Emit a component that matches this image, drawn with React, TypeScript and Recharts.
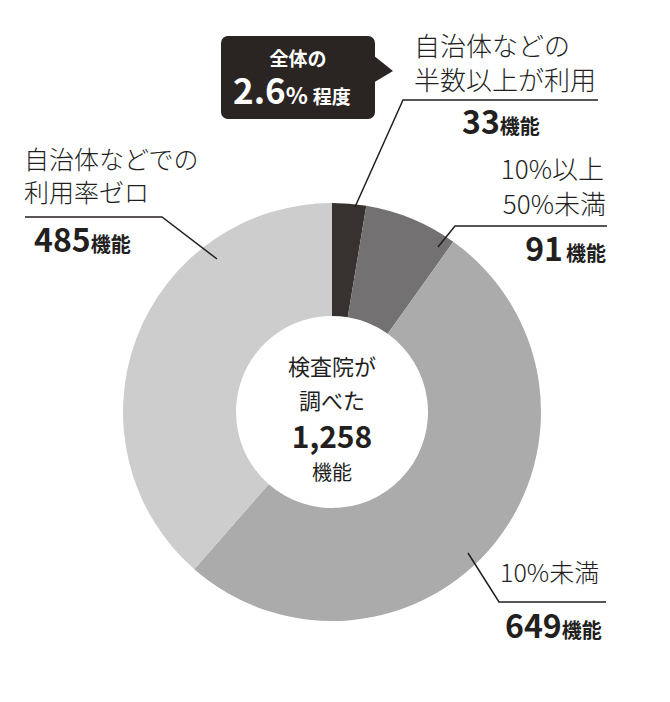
import React from "react";
import { PieChart, Pie, Cell } from "recharts";

const categories = ["自治体などの半数以上が利用", "10%以上50%未満", "10%未満", "自治体などでの利用率ゼロ"];
const counts = [33, 91, 649, 485];
const colors = ["#37322f", "#737171", "#ababab", "#cdcdcd"];
const totalLabel = "1,258";

const data = categories.map((name, i) => ({ name, value: counts[i] }));

const FONT = '"Noto Sans CJK JP", "Noto Sans", sans-serif';
const INK = "#231f1e";

export default function App() {
  return (
    <div style={{ position: "absolute", left: 0, top: 0, width: 670, height: 702, background: "#fff", fontFamily: FONT }}>
      <PieChart width={670} height={702} margin={{ top: 0, right: 0, bottom: 0, left: 0 }}>
        <Pie
          data={data}
          dataKey="value"
          nameKey="name"
          cx={332}
          cy={412}
          innerRadius={96}
          outerRadius={209}
          startAngle={90}
          endAngle={-270}
          stroke="none"
          isAnimationActive={false}
        >
          {data.map((d, i) => (
            <Cell key={d.name} fill={colors[i]} stroke="none" />
          ))}
        </Pie>
      </PieChart>
      <svg width={670} height={702} style={{ position: "absolute", left: 0, top: 0, pointerEvents: "none" }} fontFamily={FONT}>
        {/* callout box */}
        <rect x={221} y={36} width={154} height={83} rx={7} fill="#2a2523" />
        <polygon points="373,55 393,71 373,83" fill="#2a2523" />
        <text x={298} y={66} textAnchor="middle" fill="#fff" fontSize={19} fontWeight={700}>全体の</text>
        <text x={233} y={104} fill="#fff" fontWeight={700}>
          <tspan fontSize={35}>2.6</tspan>
          <tspan fontSize={23}>%</tspan>
          <tspan fontSize={19} dx={5}>程度</tspan>
        </text>

        {/* top right label: 33 */}
        <text x={414} y={56} fill={INK} fontSize={26} fontWeight={300}>自治体などの</text>
        <text x={414} y={90} fill={INK} fontSize={26} fontWeight={300}>半数以上が利用</text>
        <polyline points="598,100 403,100 355,207" fill="none" stroke={INK} strokeWidth={1.5} />
        <text x={462} y={134} fill={INK} fontWeight={700}>
          <tspan fontSize={32}>{counts[0]}</tspan>
          <tspan fontSize={20}>機能</tspan>
        </text>

        {/* right label: 91 */}
        <text x={604} y={179} textAnchor="end" fill={INK} fontSize={26} fontWeight={300}>10%以上</text>
        <text x={606} y={214} textAnchor="end" fill={INK} fontSize={26} fontWeight={300}>50%未満</text>
        <polyline points="607,226 455,226 438,247" fill="none" stroke={INK} strokeWidth={1.5} />
        <text x={606} y={261} textAnchor="end" fill={INK} fontWeight={700}>
          <tspan fontSize={32}>{counts[1]}</tspan>
          <tspan fontSize={20} dx={3}>機能</tspan>
        </text>

        {/* left label: 485 */}
        <text x={24} y={169} fill={INK} fontSize={25} fontWeight={300}>自治体などでの</text>
        <text x={24} y={202} fill={INK} fontSize={25} fontWeight={300}>利用率ゼロ</text>
        <polyline points="25,217 162,217 217,259" fill="none" stroke={INK} strokeWidth={1.5} />
        <text x={34} y={252} fill={INK} fontWeight={700}>
          <tspan fontSize={32}>{counts[3]}</tspan>
          <tspan fontSize={20}>機能</tspan>
        </text>

        {/* bottom right label: 649 */}
        <text x={500} y={582} fill={INK} fontSize={25} fontWeight={300}>10%未満</text>
        <polyline points="468,553 499,602 606,602" fill="none" stroke={INK} strokeWidth={1.5} />
        <text x={505} y={638} fill={INK} fontWeight={700}>
          <tspan fontSize={32}>{counts[2]}</tspan>
          <tspan fontSize={20}>機能</tspan>
        </text>

        {/* center */}
        <text x={332} y={375} textAnchor="middle" fill={INK} fontSize={22}>検査院が</text>
        <text x={332} y={409} textAnchor="middle" fill={INK} fontSize={22}>調べた</text>
        <text x={332} y={448} textAnchor="middle" fill={INK} fontSize={30} fontWeight={700}>{totalLabel}</text>
        <text x={332} y={480} textAnchor="middle" fill={INK} fontSize={20}>機能</text>
      </svg>
    </div>
  );
}
